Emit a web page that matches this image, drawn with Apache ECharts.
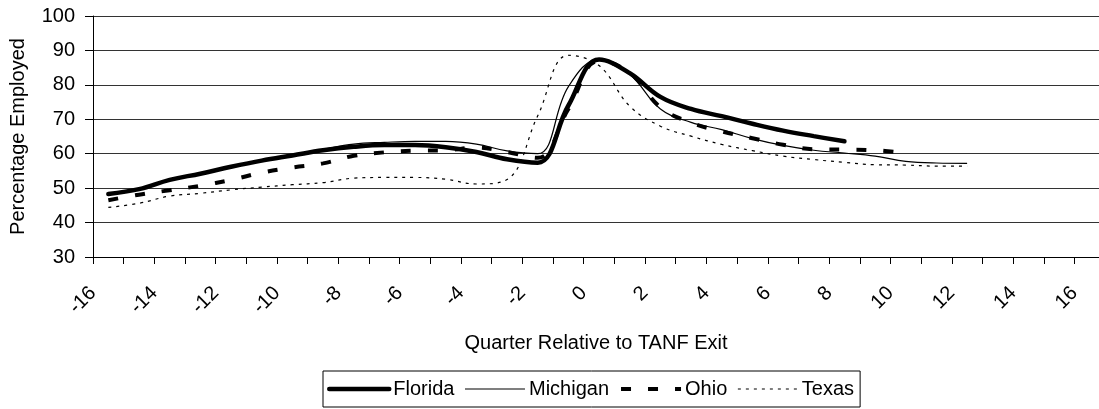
<!DOCTYPE html>
<html>
<head>
<meta charset="utf-8">
<script src="https://cdn.jsdelivr.net/npm/echarts@6/dist/echarts.min.js"></script>
<style>
  html, body { margin: 0; padding: 0; background: #fff; }
  #chart { width: 1099px; height: 409px; }
</style>
</head>
<body>
<div id="chart"></div>
<script>
// quarters relative to exit (points sit mid-quarter)
const quarters = [-15.5, -14.5, -13.5, -12.5, -11.5, -10.5, -9.5, -8.5, -7.5, -6.5,
  -5.5, -4.5, -3.5, -2.5, -1.5, -0.5, 0.5, 1.5, 2.5, 3.5, 4.5, 5.5, 6.5, 7.5, 8.5,
  9.5, 10.5, 11.5, 12.5];

const florida = [48.3, 49.7, 52.4, 54.2, 56.2, 58.0, 59.5, 61.0, 62.0, 62.5,
  62.5, 61.9, 60.5, 58.4, 57.4, 74.0, 87.4, 83.4, 76.5, 73.0, 70.9, 68.7, 66.7, 65.1, 63.6];

const michigan = [48.3, 49.7, 52.4, 54.2, 56.2, 58.0, 59.6, 61.3, 62.8, 63.3,
  63.6, 63.6, 62.8, 60.8, 60.0, 79.5, 87.4, 83.0, 73.0, 69.1, 67.0, 64.4, 62.4, 61.0, 60.2,
  59.3, 57.8, 57.3, 57.2];

const ohio = [46.5, 48.1, 49.4, 50.7, 52.4, 54.5, 56.0, 57.2, 59.4, 60.4,
  60.9, 61.0, 61.8, 60.5, 58.8, 73.0, 87.0, 83.5, 73.5, 69.0, 66.5, 64.5, 62.6, 61.3, 61.2,
  61.0, 60.2];

const texas = [44.4, 45.6, 47.7, 48.5, 49.5, 50.3, 51.0, 51.6, 52.9, 53.1,
  53.1, 52.6, 51.2, 52.5, 71.0, 88.6, 85.6, 73.8, 68.0, 65.1, 62.7, 60.9, 59.3, 58.3, 57.5,
  56.8, 56.7, 56.4, 56.4];

const xTicks = [];
for (let q = -16; q <= 16; q++) xTicks.push(q);
const xLabels = xTicks.filter(q => q % 2 === 0);

const FONT = "'Liberation Sans', Arial, sans-serif";
const FS = 20;

function pairs(vals) {
  return vals.map((v, i) => [quarters[i], v]);
}

const chart = echarts.init(document.getElementById('chart'));

chart.setOption({
  animation: false,
  textStyle: { fontFamily: FONT, color: '#000' },
  grid: { left: 91, right: 0, top: 16, bottom: 152, containLabel: false },
  xAxis: {
    type: 'value',
    min: -16, max: 16.8, interval: 1,
    name: 'Quarter Relative to TANF Exit',
    nameLocation: 'middle',
    nameGap: 76,
    nameTextStyle: { fontSize: FS, color: '#000', fontFamily: FONT },
    axisLine: { onZero: false, lineStyle: { color: '#000', width: 1 } },
    axisTick: { show: true, length: 7, lineStyle: { color: '#000' }, customValues: xTicks },
    axisLabel: {
      customValues: xLabels,
      rotate: 45, margin: 33, fontSize: FS, color: '#000', fontFamily: FONT
    },
    splitLine: { show: false }
  },
  yAxis: {
    type: 'value',
    min: 30, max: 100, interval: 10,
    name: 'Percentage Employed',
    nameLocation: 'middle',
    nameGap: 65,
    nameTextStyle: { fontSize: FS, color: '#000', fontFamily: FONT },
    axisLine: { show: true, onZero: false, lineStyle: { color: '#000', width: 1 } },
    axisTick: { show: true, length: 8, lineStyle: { color: '#000' } },
    axisLabel: { margin: 18, fontSize: FS, color: '#000', fontFamily: FONT },
    splitLine: { show: true, lineStyle: { color: '#333', width: 1 } }
  },
  legend: {
    bottom: 2,
    left: 323,
    orient: 'horizontal',
    itemWidth: 60,
    itemHeight: 14,
    itemGap: 10,
    padding: [8, 6, 8, 4],
    borderColor: '#000',
    borderWidth: 1,
    borderRadius: 0,
    itemStyle: { color: 'rgba(0,0,0,0)', borderWidth: 0, opacity: 0 },
    lineStyle: { width: 'inherit' },
    textStyle: { fontSize: FS, color: '#000', fontFamily: FONT, padding: [0, 0, 0, -1] },
    data: ['Florida', 'Michigan', 'Ohio', 'Texas']
  },
  series: [
    {
      name: 'Florida', type: 'line', data: pairs(florida), smooth: 0.4,
      symbol: 'none', lineStyle: { color: '#000', width: 4.5, cap: 'round' },
      itemStyle: { color: '#000' }
    },
    {
      name: 'Michigan', type: 'line', data: pairs(michigan), smooth: 0.4,
      symbol: 'none', lineStyle: { color: '#000', width: 1.2 },
      itemStyle: { color: '#000' }
    },
    {
      name: 'Ohio', type: 'line', data: pairs(ohio), smooth: 0.4,
      symbol: 'none', lineStyle: { color: '#000', width: 4, type: [10, 17] },
      itemStyle: { color: '#000' }
    },
    {
      name: 'Texas', type: 'line', data: pairs(texas), smooth: 0.4,
      symbol: 'none', lineStyle: { color: '#000', width: 1.2, type: [3, 5] },
      itemStyle: { color: '#000' }
    }
  ]
});
</script>
</body>
</html>
